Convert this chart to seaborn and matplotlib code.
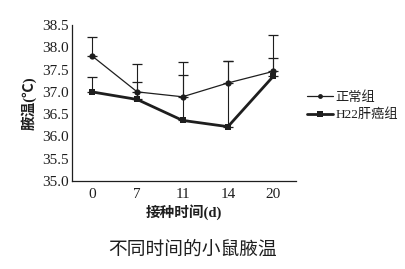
import numpy as np
import pandas as pd
import matplotlib
matplotlib.use("Agg")
import matplotlib.pyplot as plt
import seaborn as sns
from matplotlib.lines import Line2D

days = ["0", "7", "11", "14", "20"]
normal_mean = [37.81, 37.00, 36.89, 37.20, 37.46]
normal_err = [0.43, 0.62, 0.79, 0.50, 0.82]
tumor_mean = [37.00, 36.83, 36.36, 36.22, 37.35]
tumor_err = [0.33, 0.40, 1.01, 1.48, 0.41]
series_names = ["正常组", "H22肝癌组"]
yticks = [35.0, 35.5, 36.0, 36.5, 37.0, 37.5, 38.0, 38.5]

sns.set_theme(style="white")
plt.rcParams["font.family"] = ["Liberation Serif", "Noto Sans CJK SC", "DejaVu Sans"]

pos = list(range(len(days)))
df = pd.DataFrame({
    "pos": pos * 2,
    "temp": normal_mean + tumor_mean,
    "group": [series_names[0]] * len(days) + [series_names[1]] * len(days),
})

fig = plt.figure(figsize=(4.06, 2.69), dpi=100)
ax = fig.add_axes([0.177, 0.327, 0.552, 0.58])
col = "#1e1e1e"

sns.lineplot(data=df[df.group == series_names[0]], x="pos", y="temp", ax=ax,
             color=col, lw=0.9, marker="o", markersize=4.5, markeredgewidth=0,
             legend=False)
sns.lineplot(data=df[df.group == series_names[1]], x="pos", y="temp", ax=ax,
             color=col, lw=2.0, marker="s", markersize=4.5, markeredgewidth=0,
             legend=False)

ax.errorbar(pos, normal_mean, yerr=[np.zeros(len(pos)), normal_err], fmt="none",
            ecolor=col, elinewidth=0.8, capsize=3.5, capthick=0.9)
ax.errorbar(pos, tumor_mean, yerr=[np.zeros(len(pos)), tumor_err], fmt="none",
            ecolor=col, elinewidth=0.8, capsize=3.5, capthick=0.9)

ax.set_xlim(-0.44, 4.5)
ax.set_ylim(35.0, 38.5)
ax.set_yticks(yticks)
ax.set_yticklabels([f"{v:.1f}" for v in yticks], fontsize=11, color=col)
ax.set_xticks(pos)
ax.set_xticklabels(days, fontsize=11, color=col)
ax.set_xticks([p + 0.5 for p in pos], minor=True)
ax.tick_params(axis="x", which="major", length=0, pad=5)
ax.tick_params(axis="x", which="minor", direction="in", length=3, width=0.8, color=col)
ax.tick_params(axis="y", which="major", direction="in", length=2.5, width=0.8, color=col, pad=2)
for s in ["top", "right"]:
    ax.spines[s].set_visible(False)
for s in ["left", "bottom"]:
    ax.spines[s].set_color(col)
    ax.spines[s].set_linewidth(0.9)

ax.set_xlabel("接种时间(d)", fontsize=10.5, color=col, labelpad=2, fontweight="bold")
ax.set_ylabel("腋温(℃)", fontsize=10.5, color=col, labelpad=4, fontweight="bold")

handles = [
    Line2D([], [], color=col, lw=0.9, marker="o", markersize=3.5, markeredgewidth=0),
    Line2D([], [], color=col, lw=2.0, marker="s", markersize=4, markeredgewidth=0),
]
fig.legend(handles, series_names, loc="center left", bbox_to_anchor=(0.755, 0.605),
           frameon=False, fontsize=9.5, handlelength=2.0, handletextpad=0.2,
           labelspacing=0.35, labelcolor=col, borderpad=0, borderaxespad=0)

fig.text(0.475, 0.07, "不同时间的小鼠腋温", fontsize=13.5, ha="center", va="center",
         color=col)

fig.savefig("out.png", dpi=100, facecolor="white")
